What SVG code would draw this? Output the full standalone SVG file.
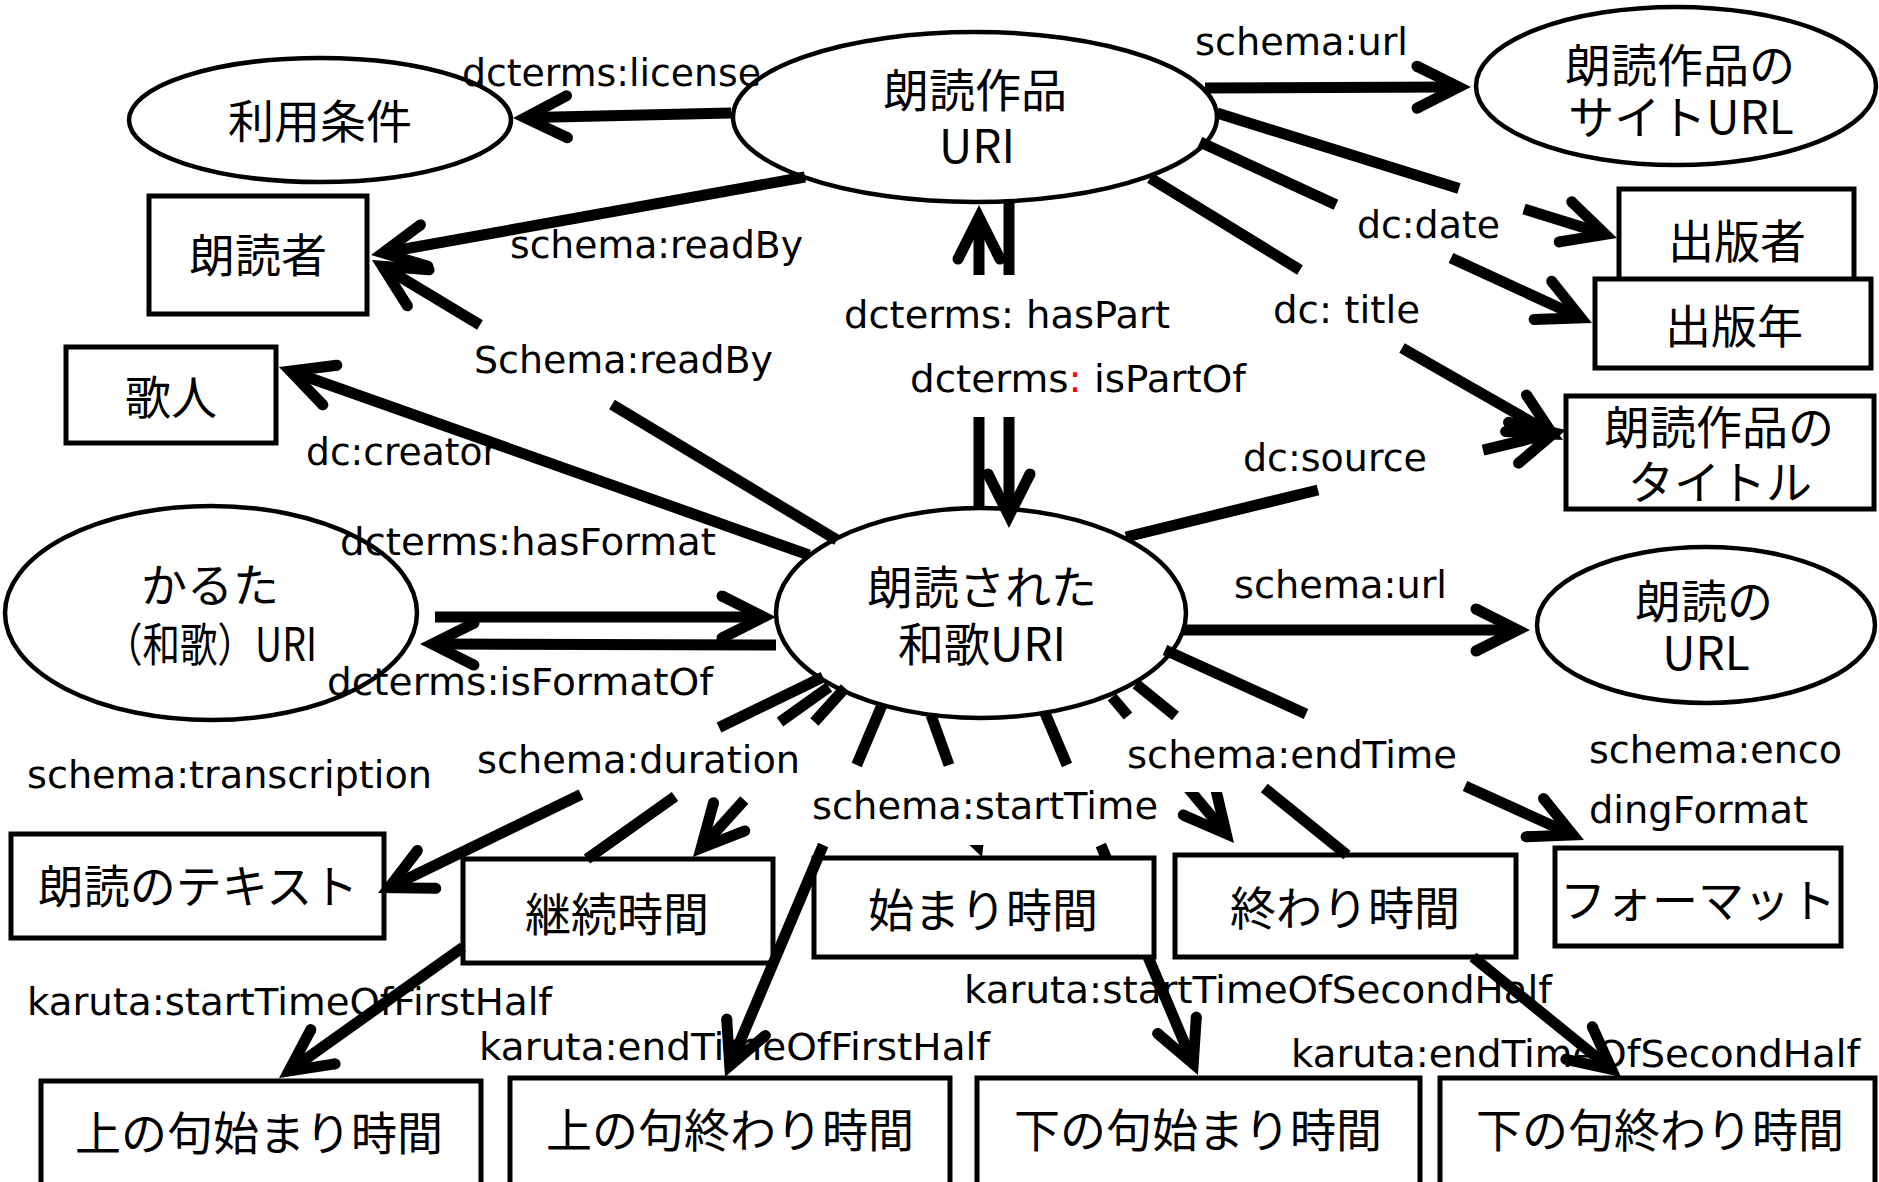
<svg xmlns="http://www.w3.org/2000/svg" width="1879" height="1182" viewBox="0 0 1879 1182">
<style>
.nd{fill:#fff;stroke:#000;stroke-width:4.5}
.rc{fill:#fff;stroke:#000;stroke-width:5}
.nt{font-family:"Noto Sans CJK JP","Noto Sans",sans-serif;font-size:46px;fill:#000;text-anchor:middle}
.lb{font-family:"DejaVu Sans","Noto Sans",sans-serif;font-size:37px;fill:#000}
.c{fill:none;stroke:#000;stroke-width:11;stroke-linecap:butt}
.a{marker-end:url(#ah)}
</style>
<defs>
<marker id="ah" markerUnits="userSpaceOnUse" orient="auto" refX="0" refY="0" markerWidth="80" markerHeight="80" overflow="visible">
<polygon points="20,0 -31.5,-25.9 -36.5,-16.1 -4.3,0 -36.5,16.1 -31.5,25.9" fill="#000"/>
<circle cx="-34" cy="-21" r="5.5" fill="#000"/>
<circle cx="-34" cy="21" r="5.5" fill="#000"/>
</marker>
<clipPath id="clipST"><rect x="900" y="845" width="150" height="40"/></clipPath>
<clipPath id="clipET"><rect x="1150" y="792" width="150" height="80"/></clipPath>
</defs>
<rect width="1879" height="1182" fill="#fff"/>

<g id="nodes">
<g id="n-riyou"><ellipse class="nd" cx="320" cy="120" rx="191" ry="62"/><text class="nt" x="320" y="138">利用条件</text></g>
<g id="n-sakuhin"><ellipse class="nd" cx="975" cy="117" rx="242" ry="85"/><text class="nt" x="975" y="107">朗読作品<tspan x="977" y="163">URI</tspan></text></g>
<g id="n-siteurl"><ellipse class="nd" cx="1676" cy="86" rx="200" ry="79"/><text class="nt" x="1680" y="82">朗読作品の<tspan x="1681" y="134">サイトURL</tspan></text></g>
<g id="n-roudokusha"><rect class="rc" x="149" y="196" width="218" height="118"/><text class="nt" x="258" y="272">朗読者</text></g>
<g id="n-kajin"><rect class="rc" x="66" y="347" width="210" height="96"/><text class="nt" x="171" y="414">歌人</text></g>
<g id="n-shuppansha"><rect class="rc" x="1619" y="189" width="235" height="95"/><text class="nt" x="1737" y="258">出版者</text></g>
<g id="n-shuppannen"><rect class="rc" x="1595" y="279" width="276" height="89"/><text class="nt" x="1734" y="343">出版年</text></g>
<g id="n-title"><rect class="rc" x="1566" y="396" width="308" height="113"/><text class="nt" x="1719" y="444">朗読作品の<tspan x="1720" y="499">タイトル</tspan></text></g>
<g id="n-karuta"><ellipse class="nd" cx="211" cy="613" rx="206" ry="107"/><text class="nt" x="210" y="602">かるた<tspan x="105" y="661" style="text-anchor:start" textLength="212" lengthAdjust="spacingAndGlyphs">（和歌）URI</tspan></text></g>
<g id="n-waka"><ellipse class="nd" cx="981" cy="613" rx="205" ry="105"/><text class="nt" x="982" y="604">朗読された<tspan x="982" y="661">和歌URI</tspan></text></g>
<g id="n-roudokuurl"><ellipse class="nd" cx="1706" cy="625" rx="169" ry="78"/><text class="nt" x="1704" y="618">朗読の<tspan x="1706" y="670">URL</tspan></text></g>
<g id="n-text"><rect class="rc" x="11" y="834" width="373" height="104"/><text class="nt" x="198" y="903">朗読のテキスト</text></g>
<g id="n-keizoku"><rect class="rc" x="463" y="859" width="310" height="104"/><text class="nt" x="617" y="931">継続時間</text></g>
<g id="n-hajimari"><rect class="rc" x="814" y="858" width="340" height="99"/><text class="nt" x="983" y="927">始まり時間</text></g>
<g id="n-owari"><rect class="rc" x="1175" y="855" width="341" height="102"/><text class="nt" x="1345" y="925">終わり時間</text></g>
<g id="n-format"><rect class="rc" x="1555" y="848" width="286" height="98"/><text class="nt" x="1698" y="917">フォーマット</text></g>
<g id="n-kami-start"><rect class="rc" x="41" y="1081" width="440" height="110"/><text class="nt" x="259" y="1150">上の句始まり時間</text></g>
<g id="n-kami-end"><rect class="rc" x="510" y="1078" width="440" height="110"/><text class="nt" x="730" y="1147">上の句終わり時間</text></g>
<g id="n-shimo-start"><rect class="rc" x="977" y="1078" width="443" height="110"/><text class="nt" x="1198" y="1147">下の句始まり時間</text></g>
<g id="n-shimo-end"><rect class="rc" x="1440" y="1078" width="435" height="110"/><text class="nt" x="1660" y="1147">下の句終わり時間</text></g>
</g>

<g id="labels">
<text class="lb" x="462" y="86" textLength="299" lengthAdjust="spacingAndGlyphs">dcterms:license</text>
<text class="lb" x="1195" y="55" textLength="213" lengthAdjust="spacingAndGlyphs">schema:url</text>
<text class="lb" x="510" y="258" textLength="293" lengthAdjust="spacingAndGlyphs">schema:readBy</text>
<text class="lb" x="474" y="373" textLength="299" lengthAdjust="spacingAndGlyphs">Schema:readBy</text>
<text class="lb" x="844" y="328" textLength="326" lengthAdjust="spacingAndGlyphs">dcterms: hasPart</text>
<text class="lb" x="910" y="392" textLength="336" lengthAdjust="spacingAndGlyphs">dcterms<tspan fill="#ff0000">:</tspan> isPartOf</text>
<text class="lb" x="1357" y="238" textLength="143" lengthAdjust="spacingAndGlyphs">dc:date</text>
<text class="lb" x="1273" y="323" textLength="147" lengthAdjust="spacingAndGlyphs">dc: title</text>
<text class="lb" x="1243" y="471" textLength="184" lengthAdjust="spacingAndGlyphs">dc:source</text>
<text class="lb" x="306" y="465" textLength="192" lengthAdjust="spacingAndGlyphs">dc:creator</text>
<text class="lb" x="340" y="555" textLength="376" lengthAdjust="spacingAndGlyphs">dcterms:hasFormat</text>
<text class="lb" x="327" y="695" textLength="386" lengthAdjust="spacingAndGlyphs">dcterms:isFormatOf</text>
<text class="lb" x="1234" y="598" textLength="213" lengthAdjust="spacingAndGlyphs">schema:url</text>
<text class="lb" x="27" y="788" textLength="405" lengthAdjust="spacingAndGlyphs">schema:transcription</text>
<text class="lb" x="477" y="773" textLength="323" lengthAdjust="spacingAndGlyphs">schema:duration</text>
<text class="lb" x="812" y="819" textLength="346" lengthAdjust="spacingAndGlyphs">schema:startTime</text>
<text class="lb" x="1127" y="768" textLength="330" lengthAdjust="spacingAndGlyphs">schema:endTime</text>
<text class="lb" x="1589" y="763" textLength="253" lengthAdjust="spacingAndGlyphs">schema:enco</text>
<text class="lb" x="1589" y="823" textLength="219" lengthAdjust="spacingAndGlyphs">dingFormat</text>
<text class="lb" x="27" y="1015" textLength="525" lengthAdjust="spacingAndGlyphs">karuta:startTimeOfFirstHalf</text>
<text class="lb" x="479" y="1060" textLength="511" lengthAdjust="spacingAndGlyphs">karuta:endTimeOfFirstHalf</text>
<text class="lb" x="964" y="1003" textLength="588" lengthAdjust="spacingAndGlyphs">karuta:startTimeOfSecondHalf</text>
<text class="lb" x="1291" y="1067" textLength="569" lengthAdjust="spacingAndGlyphs">karuta:endTimeOfSecondHalf</text>
</g>

<g id="connectors">
<path class="c a" d="M731 113 L533 117.5"/>
<path class="c a" d="M805 177 L390.7 251.5"/>
<path class="c" d="M837 540 L612 404.5"/>
<path class="c a" d="M480 325 L389.1 270.3"/>
<path class="c a" d="M809 555 L297.8 373.7"/>
<path class="c" d="M979 510 L979 417"/>
<path class="c a" d="M979 275 L979 225"/>
<path class="c" d="M1009 203 L1009 275"/>
<path class="c a" d="M1009 417 L1009 508"/>
<path class="c a" d="M1205 88 L1451 87.1"/>
<path class="c" d="M1217 113 L1459 188.6"/>
<path class="c a" d="M1524 208.9 L1597.9 232"/>
<path class="c" d="M1200 142 L1336 204.8"/>
<path class="c a" d="M1451 257.9 L1573.8 314.6"/>
<path class="c" d="M1150 178 L1300 270"/>
<path class="c a" d="M1402 348 L1545.6 430.1"/>
<path class="c" d="M1126 537 L1318 490"/>
<path class="c a" d="M1483 450.2 L1546.6 434.7"/>
<path class="c a" d="M1183 630 L1510 630"/>
<path class="c a" d="M435 617 L756 617"/>
<path class="c a" d="M776 645 L440 644"/>
<path class="c" d="M823 677 L719 727.5"/>
<path class="c a" d="M581 794.5 L396 884.3"/>
<path class="c" d="M829 687 L780 722"/>
<path class="c" d="M675 796.5 L587 859"/>
<path class="c a" d="M463 947.2 L295.3 1066.4"/>
<path class="c" d="M845 688 L814.4 722"/>
<path class="c a" d="M744.3 800 L706.4 842.1"/>
<path class="c" d="M882 705 L856.7 765"/>
<path class="c a" d="M823.2 845 L732.8 1058.6"/>
<path class="c" d="M931 715 L949 765"/>
<path class="c a" d="M931 715 L975.2 838.2" clip-path="url(#clipST)"/>
<path class="c" d="M1045 713 L1067 765"/>
<path class="c" d="M1100.8 845 L1106.3 858"/>
<path class="c a" d="M1148.1 957 L1190.2 1056.6"/>
<path class="c" d="M1112 697 L1128 716"/>
<path class="c a" d="M1112 697 L1221.2 827.7" clip-path="url(#clipET)"/>
<path class="c" d="M1136 684 L1175.5 716"/>
<path class="c" d="M1264.3 788 L1347 855"/>
<path class="c a" d="M1472.9 957 L1605.5 1064.4"/>
<path class="c" d="M1165 650 L1306 713.9"/>
<path class="c a" d="M1465 786 L1565.8 831.7"/>
</g>
</svg>
